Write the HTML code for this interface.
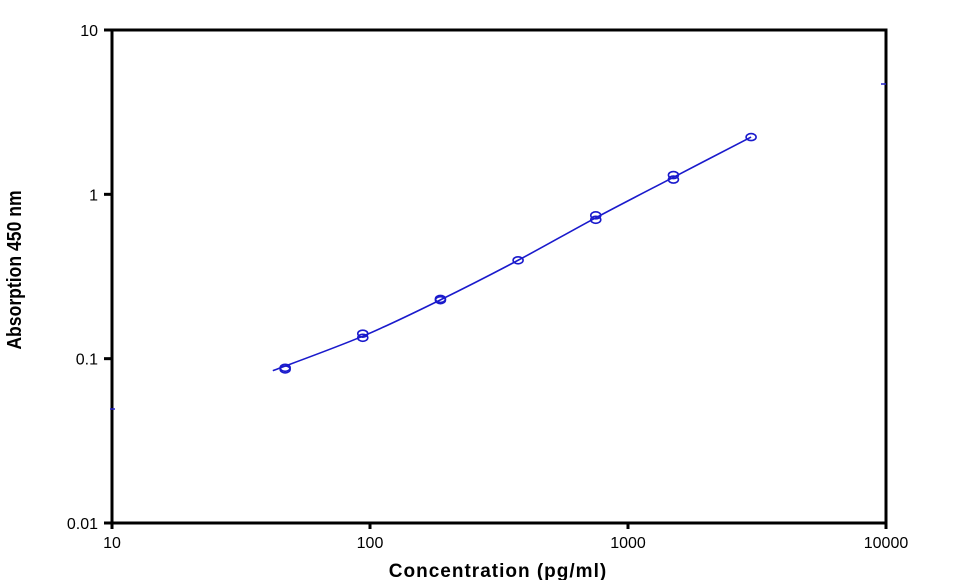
<!DOCTYPE html>
<html><head><meta charset="utf-8"><style>
body{margin:0;background:#fff;}
svg{display:block;font-family:"Liberation Sans",sans-serif;}
</style></head><body>
<svg id="chart" width="969" height="580">
<rect x="112" y="30" width="774" height="493" fill="none" stroke="#000" stroke-width="3"/>
<g id="axes"></g>
<g id="series"></g>
<text x="498" y="577" text-anchor="middle" font-size="19" font-weight="bold" letter-spacing="1">Concentration (pg/ml)</text>
<text transform="translate(21,270) rotate(-90) scale(0.88,1)" text-anchor="middle" font-size="20" font-weight="bold">Absorption 450 nm</text>
<line x1="110" y1="409" x2="115" y2="409" stroke="#22c" stroke-width="1.5"/>
<line x1="881" y1="84" x2="886" y2="84" stroke="#22c" stroke-width="1.5"/>
</svg>
<script>
const xTicks=[10,100,1000,10000];
const xTickLabels=["10","100","1000","10000"];
const yTicks=[0.01,0.1,1,10];
const yTickLabels=["0.01","0.1","1","10"];
const conc=[46.9,46.9,93.75,93.75,187.5,187.5,375,750,750,1500,1500,3000];
const absorb=[0.088,0.086,0.142,0.134,0.231,0.227,0.397,0.745,0.70,1.31,1.23,2.23];
const curveX=[42,93.75,187.5,375,750,1500,3000];
const curveY=[0.0845,0.137,0.228,0.397,0.72,1.27,2.23];
const NS="http://www.w3.org/2000/svg";
const X0=112,X1=886,Y0=523,Y1=30;
function xs(v){return X0+(Math.log10(v)-1)/3*(X1-X0);}
function ys(v){return Y0-(Math.log10(v)+2)/3*(Y0-Y1);}
function mk(t,a,p){const e=document.createElementNS(NS,t);for(const k in a)e.setAttribute(k,a[k]);p.appendChild(e);return e;}
const ax=document.getElementById('axes'),se=document.getElementById('series');
xTicks.forEach((v,i)=>{
 const l=mk('line',{x1:xs(v),x2:xs(v),y1:Y0,y2:Y0+6,stroke:'#000','stroke-width':3},ax);
 
 
 const t=mk('text',{x:xs(v),y:Y0+25,'text-anchor':'middle','font-size':16},ax);t.textContent=xTickLabels[i];
 
 
});
yTicks.forEach((v,i)=>{
 const l=mk('line',{x1:X0-8,x2:X0,y1:ys(v),y2:ys(v),stroke:'#000','stroke-width':3},ax);
 
 
 const t=mk('text',{x:X0-14,y:ys(v)+6,'text-anchor':'end','font-size':16},ax);t.textContent=yTickLabels[i];
 
 
});
const P=curveX.map((v,i)=>[xs(v),ys(curveY[i])]);
let d='M'+P[0][0]+','+P[0][1];
for(let i=0;i<P.length-1;i++){
 const p0=P[Math.max(0,i-1)],p1=P[i],p2=P[i+1],p3=P[Math.min(P.length-1,i+2)];
 const c1=[p1[0]+(p2[0]-p0[0])/6,p1[1]+(p2[1]-p0[1])/6],c2=[p2[0]-(p3[0]-p1[0])/6,p2[1]-(p3[1]-p1[1])/6];
 d+=` C${c1[0]},${c1[1]} ${c2[0]},${c2[1]} ${p2[0]},${p2[1]}`;
}
const cv=mk('path',{d:d,fill:'none',stroke:'#1a1acc','stroke-width':1.6},se);


conc.forEach((v,i)=>{
 const c=mk('ellipse',{cx:xs(v),cy:ys(absorb[i]),rx:5,ry:3.5,fill:'none',stroke:'#1a1acc','stroke-width':1.6},se);
 
 
});
</script>
</body></html>
